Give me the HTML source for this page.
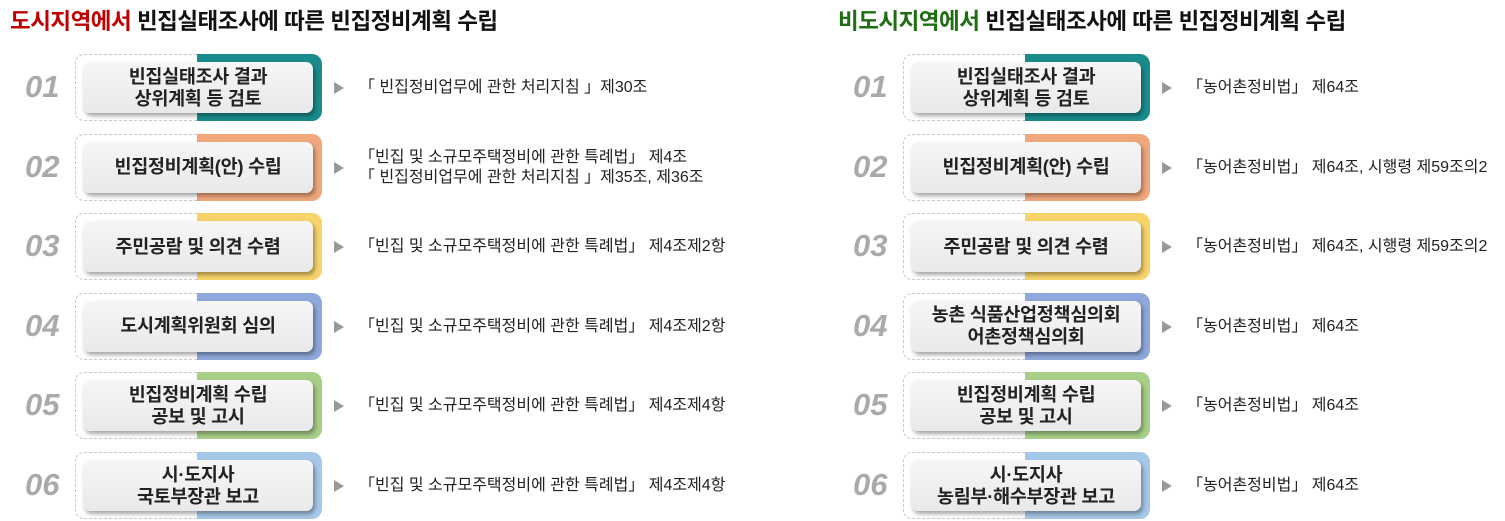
<!DOCTYPE html>
<html><head><meta charset="utf-8"><style>
body{margin:0;width:1505px;height:521px;background:#fff;position:relative;overflow:hidden;font-family:"Liberation Sans","Noto Sans CJK KR",sans-serif}
.t{position:absolute;top:4px;font-size:22.5px;font-weight:bold;color:#111;white-space:nowrap;letter-spacing:-0.5px}
.n{position:absolute;font-size:31px;font-style:italic;font-weight:bold;color:#aaa;width:60px}
.ob{position:absolute;width:246px;height:67px;border:1.5px dashed #c8c8c8;border-radius:9px;box-sizing:border-box}
.cb{position:absolute;width:125px;height:67px;border-radius:0 10px 10px 0}
.ib{position:absolute;width:230px;height:51px;background:linear-gradient(#f6f6f6,#e9e9e9);border-radius:7px;box-shadow:2px 3px 4px rgba(0,0,0,.35);display:flex;align-items:center;justify-content:center;text-align:center;font-size:18.5px;font-weight:bold;color:#222;line-height:22px;letter-spacing:-0.3px}
.ar{position:absolute;width:0;height:0;border-left:10px solid #999;border-top:6px solid transparent;border-bottom:6px solid transparent}
.lw{position:absolute;font-size:16px;color:#222;line-height:20px;white-space:nowrap}
</style></head><body>
<div class="t" style="left:10px"><span style="color:#c00000">도시지역에서</span> 빈집실태조사에 따른 빈집정비계획 수립</div>
<div class="t" style="left:838px"><span style="color:#1e6e12">비도시지역에서</span> 빈집실태조사에 따른 빈집정비계획 수립</div>
<div id="root"></div>
<script>
const colors=['#1a8c8c','#f0a77c','#f7d46a','#8ea8dc','#a7cf88','#a6c8e8'];
const leftSteps=['빈집실태조사 결과<br>상위계획 등 검토','빈집정비계획(안) 수립','주민공람 및 의견 수렴','도시계획위원회 심의','빈집정비계획 수립<br>공보 및 고시','시·도지사<br>국토부장관 보고'];
const leftLaws=['「 빈집정비업무에 관한 처리지침 」제30조','「빈집 및 소규모주택정비에 관한 특례법」 제4조<br>「 빈집정비업무에 관한 처리지침 」제35조, 제36조','「빈집 및 소규모주택정비에 관한 특례법」 제4조제2항','「빈집 및 소규모주택정비에 관한 특례법」 제4조제2항','「빈집 및 소규모주택정비에 관한 특례법」 제4조제4항','「빈집 및 소규모주택정비에 관한 특례법」 제4조제4항'];
const rightSteps=['빈집실태조사 결과<br>상위계획 등 검토','빈집정비계획(안) 수립','주민공람 및 의견 수렴','농촌 식품산업정책심의회<br>어촌정책심의회','빈집정비계획 수립<br>공보 및 고시','시·도지사<br>농림부·해수부장관 보고'];
const rightLaws=['「농어촌정비법」 제64조','「농어촌정비법」 제64조, 시행령 제59조의2','「농어촌정비법」 제64조, 시행령 제59조의2','「농어촌정비법」 제64조','「농어촌정비법」 제64조','「농어촌정비법」 제64조'];
const root=document.getElementById('root');
function mk(cls,style,html){const d=document.createElement('div');d.className=cls;d.style.cssText=style;if(html)d.innerHTML=html;root.appendChild(d);return d;}
function panel(ox,steps,laws,side){
 for(let i=0;i<6;i++){
  const y=54+i*79.6;
  const nn=mk('n',`left:${ox-50}px;top:${y+15}px`,'0'+(i+1));
  
  
  const ob=mk('ob',`left:${ox}px;top:${y}px`);
  
  
  const cb=mk('cb',`left:${ox+122}px;top:${y}px;background:${colors[i]}`);
  
  
  const ib=mk('ib',`left:${ox+8}px;top:${y+8}px`,steps[i]);
  
  
  const ar=mk('ar',`left:${ox+259}px;top:${y+28}px`);
  
  
  const multi=laws[i].includes('<br>');
  const lw=mk('lw',`left:${ox+284}px;top:${y+(multi?14:24)}px`,laws[i]);
  
  
 }
}
panel(75,leftSteps,leftLaws,'left');
panel(903,rightSteps,rightLaws,'right');
</script>
</body></html>
